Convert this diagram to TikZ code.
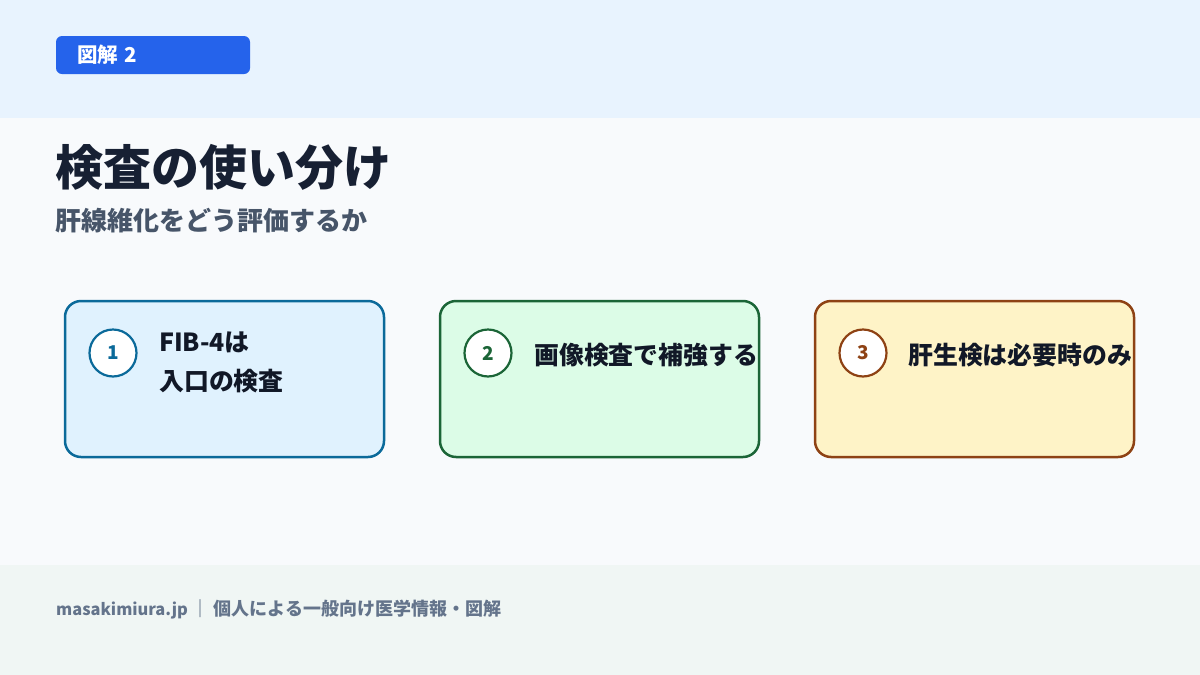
\documentclass[tikz,border=0pt]{standalone}
\usepackage{fontspec}
\setmainfont{Noto Sans CJK JP}
\definecolor{topbg}{HTML}{E8F3FE}
\definecolor{midbg}{HTML}{F8FAFC}
\definecolor{footbg}{HTML}{F0F6F4}
\definecolor{badge}{HTML}{2563EB}
\definecolor{titlec}{HTML}{172033}
\definecolor{subc}{HTML}{475569}
\definecolor{textc}{HTML}{111827}
\definecolor{footc}{HTML}{64748B}
\definecolor{bfill}{HTML}{E0F2FE}
\definecolor{bline}{HTML}{0B6A9A}
\definecolor{gfill}{HTML}{DCFCE7}
\definecolor{gline}{HTML}{1B6537}
\definecolor{yfill}{HTML}{FEF3C7}
\definecolor{yline}{HTML}{8E4214}
\tikzset{
  cardbox/.style={draw, line width=2.5pt, rounded corners=16pt, minimum width=319pt, minimum height=156pt, inner sep=0pt},
  numcirc/.style={circle, draw, fill=white, line width=2.2pt, minimum size=47pt, inner sep=0pt, font=\fontsize{19}{22}\selectfont\bfseries},
  cardtext/.style={anchor=west, inner sep=0pt, text=textc, align=left, font=\fontsize{24.9}{39}\selectfont\bfseries},
}
\begin{document}
\begin{tikzpicture}[x=1pt,y=-1pt]
\useasboundingbox (0,0) rectangle (1200,675);
\fill[midbg] (0,0) rectangle (1200,675);
\fill[topbg] (0,0) rectangle (1200,118);
\fill[footbg] (0,565) rectangle (1200,675);
% badge
\node[fill=badge, rounded corners=6pt, minimum width=194pt, minimum height=38pt, inner sep=0pt] (badge) at (153,55) {};
\node[anchor=west, inner sep=0pt, text=white, font=\fontsize{20.5}{24}\selectfont\bfseries] (badgetxt) at (77,55) {図解\hspace{6pt}2};
% titles
\node[anchor=west, inner sep=0pt, text=titlec, font=\fontsize{48}{52}\selectfont\bfseries] (title) at (55,167) {検査の使い分け};
\node[anchor=west, inner sep=0pt, text=subc, font=\fontsize{26}{30}\selectfont\bfseries] (sub) at (55,221) {肝線維化をどう評価するか};
% cards
\node[cardbox, fill=bfill, draw=bline] (c1) at (224.5,379) {};
\node[cardbox, fill=gfill, draw=gline] (c2) at (599.5,379) {};
\node[cardbox, fill=yfill, draw=yline] (c3) at (974.5,379) {};
\node[numcirc, draw=bline, text=bline] (n1) at (113,353) {1};
\node[numcirc, draw=gline, text=gline] (n2) at (488,353) {2};
\node[numcirc, draw=yline, text=yline] (n3) at (863,353) {3};
\node[cardtext] (t1) at (159,362) {FIB-4は\\入口の検査};
\node[cardtext] (t2) at (534,355) {画像検査で補強する};
\node[cardtext] (t3) at (908,355) {肝生検は必要時のみ};
% footer
\node[anchor=west, inner sep=0pt, text=footc, font=\fontsize{18}{20}\selectfont\bfseries] (foot) at (56,609) {{\fontsize{16.4}{20}\selectfont masakimiura.jp}\hspace{4pt}｜\hspace{4pt}個人による一般向け医学情報・図解};
\end{tikzpicture}
\end{document}
